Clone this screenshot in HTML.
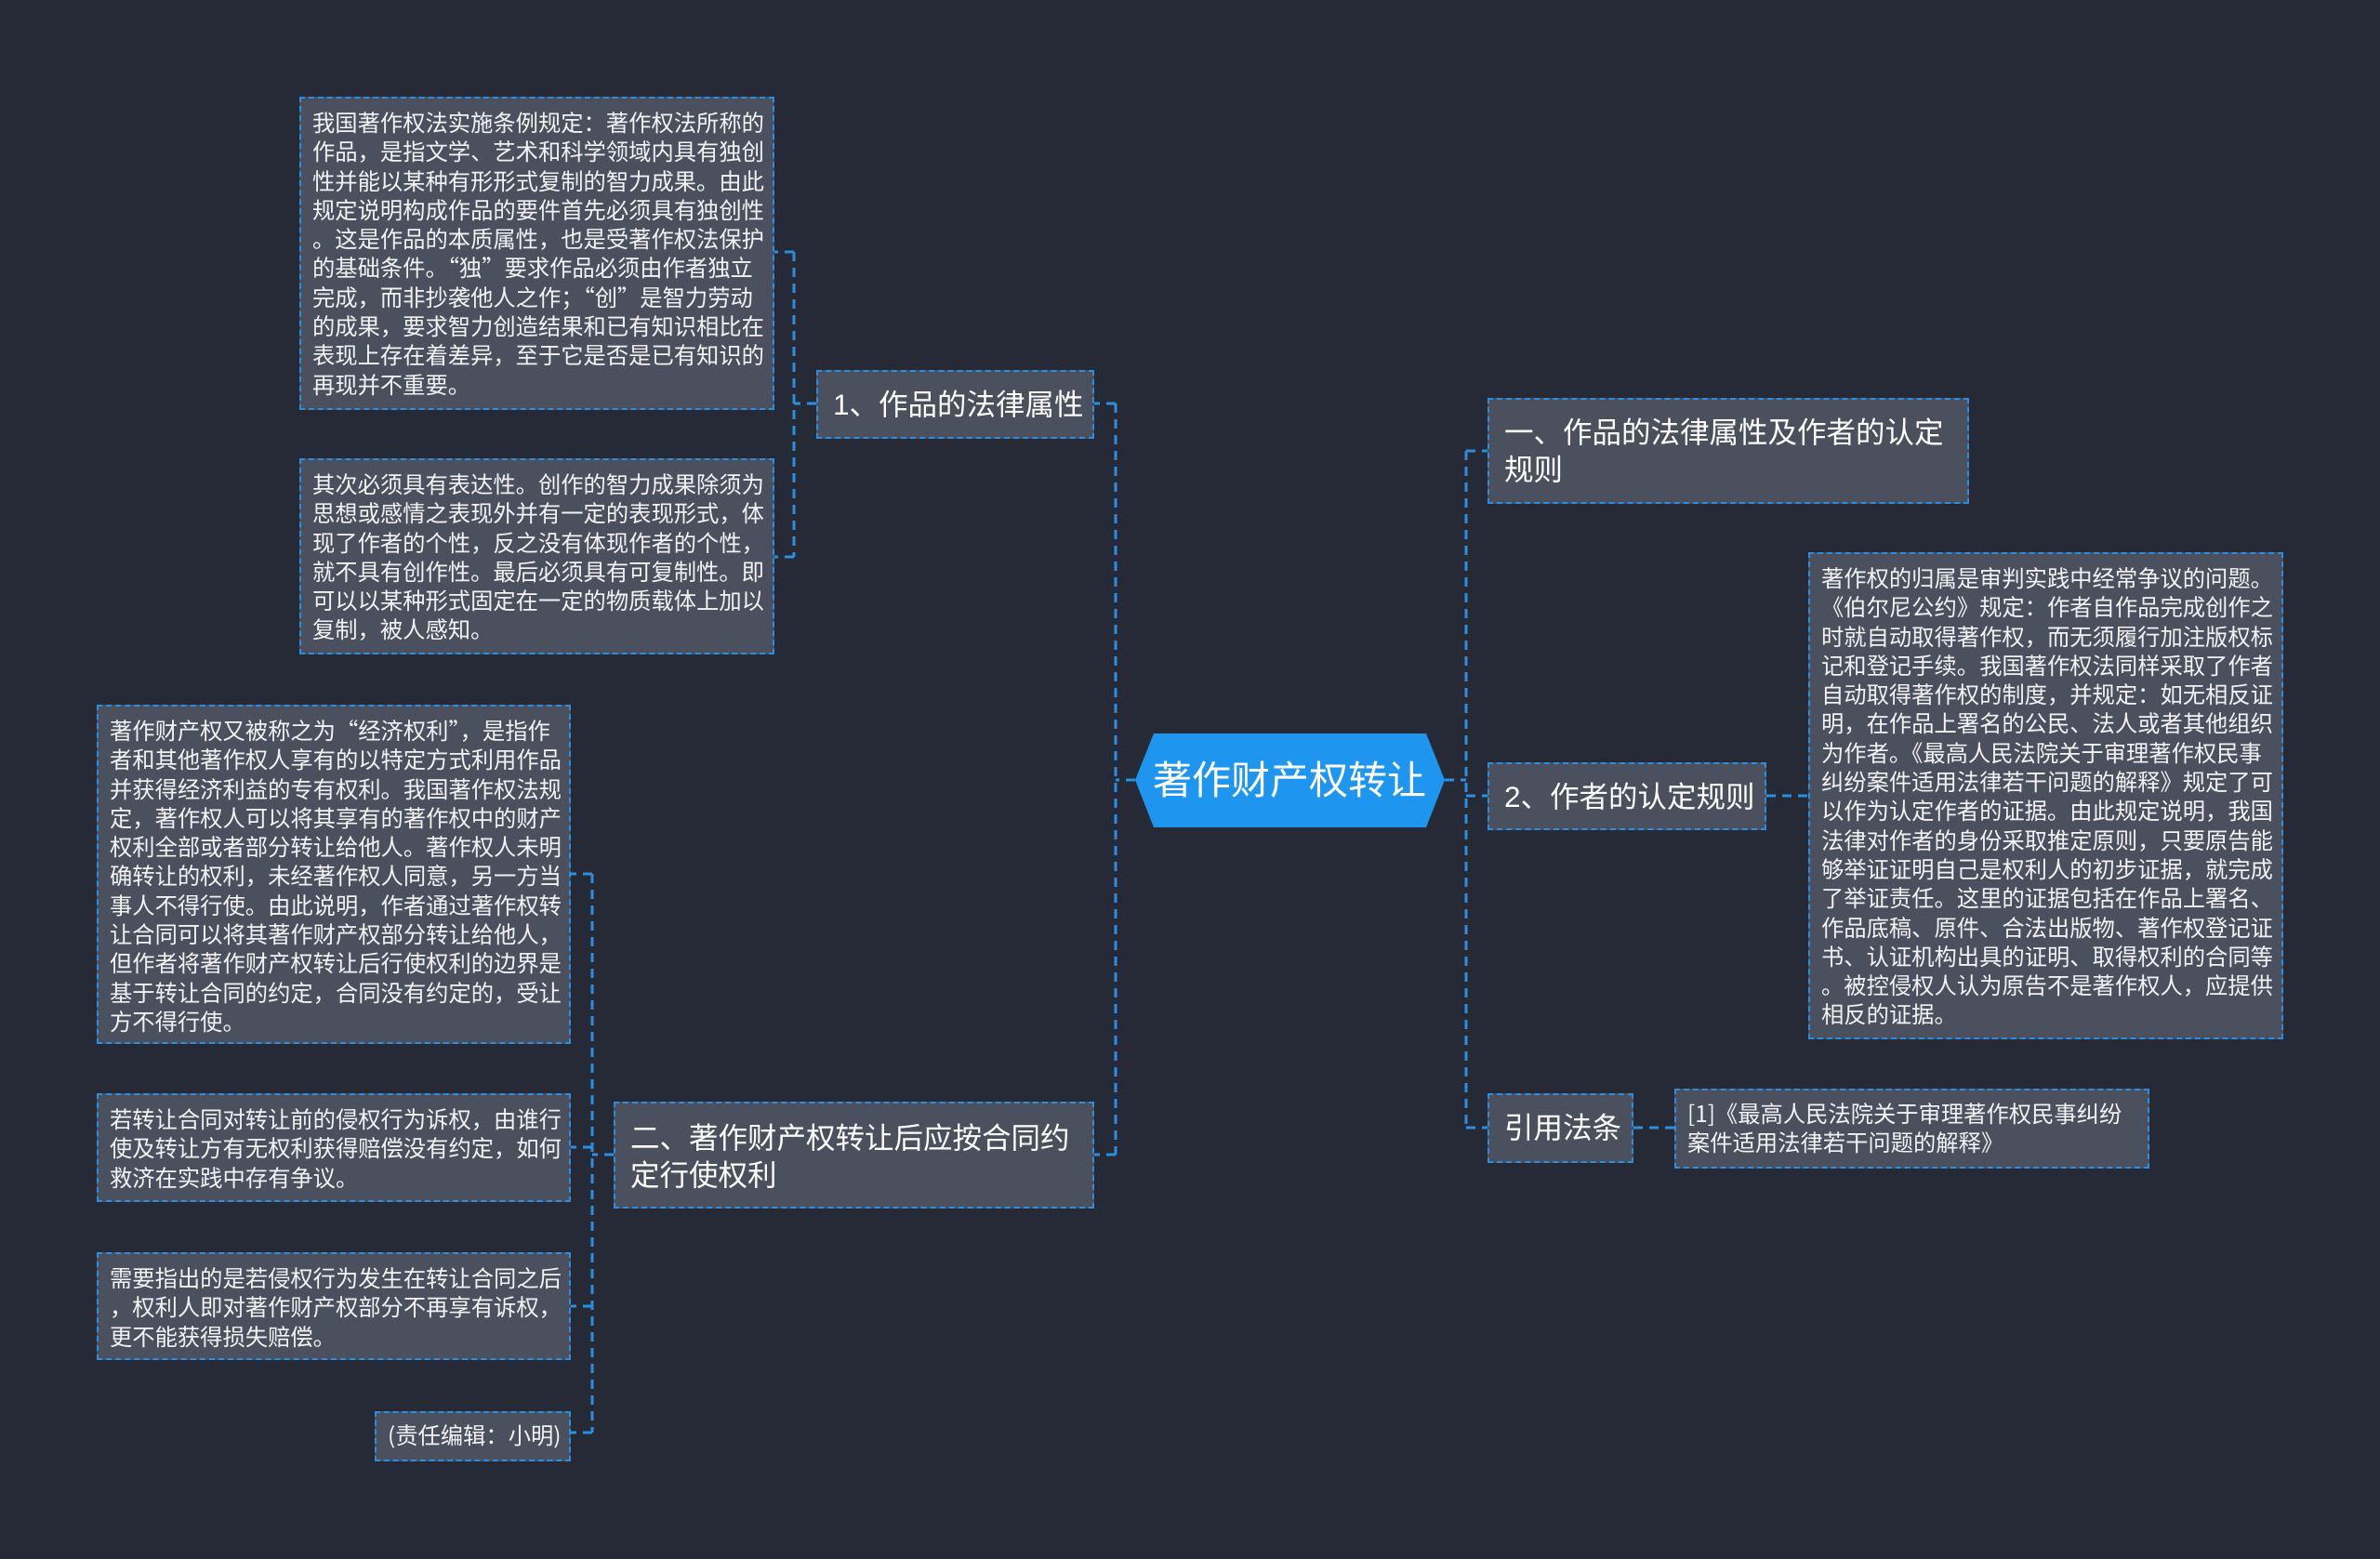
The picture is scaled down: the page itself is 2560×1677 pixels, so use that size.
<!DOCTYPE html>
<html><head><meta charset="utf-8"><style>
html,body{margin:0;padding:0}
body{width:2560px;height:1677px;background:#262a36;position:relative;overflow:hidden;font-family:"Liberation Sans","Noto Sans CJK SC",sans-serif;color:#fff}
.b{position:absolute;box-sizing:border-box;background:#4b505e;border:2px dashed #2a8fe0;white-space:pre;}
.t{font-family:"Noto Sans CJK SC","Liberation Sans",sans-serif;font-size:24.3px;line-height:31.3px;padding:9px 0 0 12px;color:#f2f2f2}
.n{font-size:31.5px;line-height:40px;padding:14px 0 0 16px;color:#fff}
svg{position:absolute;left:0;top:0}
</style></head><body>
<svg width="2560" height="1677">
<g stroke="#2a8fe0" stroke-width="3" stroke-dasharray="10,7" fill="none">
<path d="M1221 839 H1200 M1200 434 V1242 M1200 434 H1177 M1200 1242 H1177"/>
<path d="M1554 839 H1577 M1577 485 V1213 M1577 485 H1600 M1577 856 H1600 M1577 1213 H1600"/>
<path d="M878 434 H854 M854 271 V599 M854 271 H833 M854 599 H833"/>
<path d="M660 1242 H637 M637 940 V1541 M637 940 H614 M637 1234 H614 M637 1405 H614 M637 1541 H614"/>
<path d="M1900 856 H1945 M1757 1213 H1801"/>
</g>
</svg>
<div class="b t" style="left:322px;top:104px;width:511px;height:337px">我国著作权法实施条例规定：著作权法所称的
作品，是指文学、艺术和科学领域内具有独创
性并能以某种有形形式复制的智力成果。由此
规定说明构成作品的要件首先必须具有独创性
。这是作品的本质属性，也是受著作权法保护
的基础条件。“独”要求作品必须由作者独立
完成，而非抄袭他人之作；“创”是智力劳动
的成果，要求智力创造结果和已有知识相比在
表现上存在着差异，至于它是否是已有知识的
再现并不重要。</div>
<div class="b t" style="left:322px;top:493px;width:511px;height:211px">其次必须具有表达性。创作的智力成果除须为
思想或感情之表现外并有一定的表现形式，体
现了作者的个性，反之没有体现作者的个性，
就不具有创作性。最后必须具有可复制性。即
可以以某种形式固定在一定的物质载体上加以
复制，被人感知。</div>
<div class="b n" style="left:878px;top:398px;width:299px;height:74px;padding-top:15px">1、作品的法律属性</div>
<div class="b t" style="left:104px;top:758px;width:510px;height:365px">著作财产权又被称之为“经济权利”，是指作
者和其他著作权人享有的以特定方式利用作品
并获得经济利益的专有权利。我国著作权法规
定，著作权人可以将其享有的著作权中的财产
权利全部或者部分转让给他人。著作权人未明
确转让的权利，未经著作权人同意，另一方当
事人不得行使。由此说明，作者通过著作权转
让合同可以将其著作财产权部分转让给他人，
但作者将著作财产权转让后行使权利的边界是
基于转让合同的约定，合同没有约定的，受让
方不得行使。</div>
<div class="b t" style="left:104px;top:1176px;width:510px;height:117px">若转让合同对转让前的侵权行为诉权，由谁行
使及转让方有无权利获得赔偿没有约定，如何
救济在实践中存有争议。</div>
<div class="b t" style="left:104px;top:1347px;width:510px;height:116px">需要指出的是若侵权行为发生在转让合同之后
，权利人即对著作财产权部分不再享有诉权，
更不能获得损失赔偿。</div>
<div class="b t" style="left:403px;top:1518px;width:211px;height:54px;padding-top:7px">(责任编辑：小明)</div>
<div class="b n" style="left:660px;top:1185px;width:517px;height:115px;padding-top:17px">二、著作财产权转让后应按合同约
定行使权利</div>
<svg width="2560" height="1677"><polygon points="1241,789 1534,789 1554,839 1534,890 1241,890 1221,839" fill="#1e96ef"/>
<text x="1387" y="854" fill="#fff" font-size="42" text-anchor="middle" font-family="Liberation Sans, Noto Sans CJK SC, sans-serif">著作财产权转让</text></svg>
<div class="b n" style="left:1600px;top:428px;width:518px;height:114px;padding-top:15px">一、作品的法律属性及作者的认定
规则</div>
<div class="b n" style="left:1600px;top:820px;width:300px;height:73px;padding-top:15px">2、作者的认定规则</div>
<div class="b t" style="left:1945px;top:594px;width:511px;height:524px">著作权的归属是审判实践中经常争议的问题。
《伯尔尼公约》规定：作者自作品完成创作之
时就自动取得著作权，而无须履行加注版权标
记和登记手续。我国著作权法同样采取了作者
自动取得著作权的制度，并规定：如无相反证
明，在作品上署名的公民、法人或者其他组织
为作者。《最高人民法院关于审理著作权民事
纠纷案件适用法律若干问题的解释》规定了可
以作为认定作者的证据。由此规定说明，我国
法律对作者的身份采取推定原则，只要原告能
够举证证明自己是权利人的初步证据，就完成
了举证责任。这里的证据包括在作品上署名、
作品底稿、原件、合法出版物、著作权登记证
书、认证机构出具的证明、取得权利的合同等
。被控侵权人认为原告不是著作权人，应提供
相反的证据。</div>
<div class="b n" style="left:1600px;top:1176px;width:157px;height:75px;padding-top:15px">引用法条</div>
<div class="b t" style="left:1801px;top:1171px;width:511px;height:86px;padding-top:8px">[1]《最高人民法院关于审理著作权民事纠纷
案件适用法律若干问题的解释》</div>
</body></html>
